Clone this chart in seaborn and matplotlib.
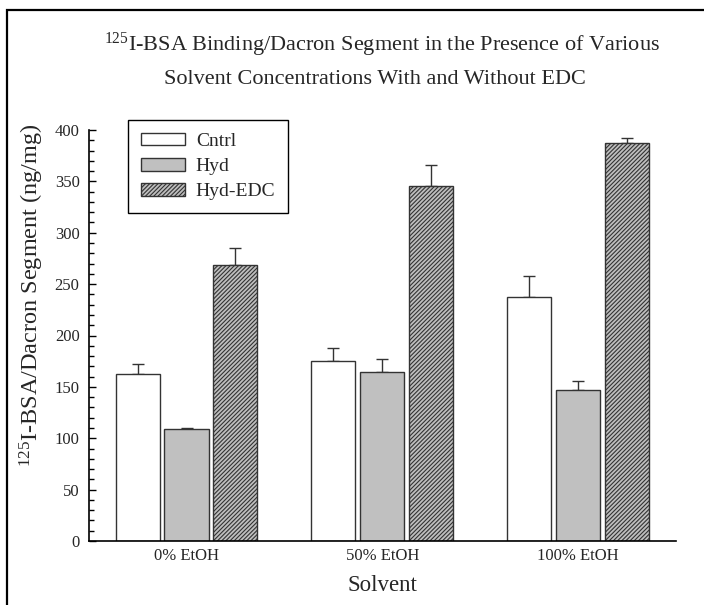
import matplotlib
matplotlib.use("Agg")
import matplotlib.pyplot as plt
import seaborn as sns
import pandas as pd
import numpy as np
from matplotlib.patches import Rectangle

# ---- data ----
solvents = ["0% EtOH", "50% EtOH", "100% EtOH"]
groups = ["Cntrl", "Hyd", "Hyd-EDC"]
cntrl_vals = [163, 175.5, 237.5]
hyd_vals = [109, 164.5, 147]
edc_vals = [268.5, 345.5, 387]
cntrl_err = [9, 12.5, 20.5]
hyd_err = [1, 13, 9]
edc_err = [17, 20.5, 5.5]
yticks = [0, 50, 100, 150, 200, 250, 300, 350, 400]

sns.set_style("ticks")
plt.rcParams['font.family'] = ['Liberation Serif', 'DejaVu Serif']
plt.rcParams['mathtext.fontset'] = 'custom'
plt.rcParams['mathtext.rm'] = 'Liberation Serif'
plt.rcParams['mathtext.it'] = 'Liberation Serif:italic'
plt.rcParams['mathtext.bf'] = 'Liberation Serif:bold'
plt.rcParams['hatch.linewidth'] = 0.8
plt.rcParams['hatch.color'] = 'black'

rows = []
for g, vals in zip(groups, [cntrl_vals, hyd_vals, edc_vals]):
    for s, v in zip(solvents, vals):
        rows.append({"Solvent": s, "Group": g, "Value": v})
df = pd.DataFrame(rows)

fig = plt.figure(figsize=(7.04, 6.05), dpi=100)
ax = fig.add_axes([88.6/704, 1-541/605, (676-88.6)/704, (541-130)/605])

palette = {"Cntrl": "white", "Hyd": "#c0c0c0", "Hyd-EDC": "#bebebe"}
sns.barplot(data=df, x="Solvent", y="Value", hue="Group", order=solvents,
            hue_order=groups, palette=palette, width=0.75, gap=0.1,
            errorbar=None, edgecolor="#333333", linewidth=1.0, ax=ax,
            legend=False)

bar_conts = list(ax.containers)
errs = [cntrl_err, hyd_err, edc_err]
for i, cont in enumerate(bar_conts):
    xs = [p.get_x() + p.get_width()/2 for p in cont.patches]
    hs = [p.get_height() for p in cont.patches]
    for p in cont.patches:
        p.set_zorder(2)
        if i == 2:
            p.set_hatch("////////")
    ax.errorbar(xs, hs, yerr=[np.zeros(len(hs)), errs[i]], fmt="none",
                ecolor="#333333", elinewidth=1.0, capsize=4.3, capthick=1.0,
                zorder=1)

ax.set_xlim(-0.5, 2.5)
ax.set_ylim(0, 400)
ax.set_yticks(yticks)
ax.set_yticks(np.arange(0, 401, 10), minor=True)
ax.tick_params(axis="y", which="major", direction="in", length=5, width=1,
               labelsize=12, pad=6.5, color="black")
ax.tick_params(axis="y", which="minor", direction="in", length=3.5, width=1,
               color="black")
ax.tick_params(axis="x", length=0, labelsize=12, pad=5)
for side in ["top", "right"]:
    ax.spines[side].set_visible(False)
for side in ["left", "bottom"]:
    ax.spines[side].set_color("black")
    ax.spines[side].set_linewidth(1.2)

ax.set_xlabel("Solvent", fontsize=16.5, labelpad=8)
ax.set_ylabel("$^{125}$I-BSA/Dacron Segment (ng/mg)", fontsize=17.5)
ax.yaxis.set_label_coords(-0.0725, 0.598)

handles = [bar_conts[i].patches[0] for i in range(3)]
leg = ax.legend(handles, groups, loc="upper left",
                bbox_to_anchor=(128/704, 1-120/605), bbox_transform=fig.transFigure,
                borderaxespad=0, fontsize=14, frameon=True, fancybox=False,
                handlelength=2.27, handleheight=0.62, handletextpad=0.57,
                labelspacing=0.42, borderpad=0.65)
leg.get_frame().set_edgecolor("black")
leg.get_frame().set_linewidth(1.0)
leg.get_frame().set_alpha(1)

fig.text(382/704, 1-45/605, "$^{125}$I-BSA Binding/Dacron Segment in the Presence of Various",
         ha="center", va="center", fontsize=16)
fig.text(375/704, 1-79/605, "Solvent Concentrations With and Without EDC",
         ha="center", va="center", fontsize=16)

fig.patches.append(Rectangle((7/704, -0.1), 1.2, 1.1 - 10/605,
                             transform=fig.transFigure, fill=False,
                             edgecolor="black", linewidth=1.6, zorder=0))

fig.savefig("out.png", dpi=100)
